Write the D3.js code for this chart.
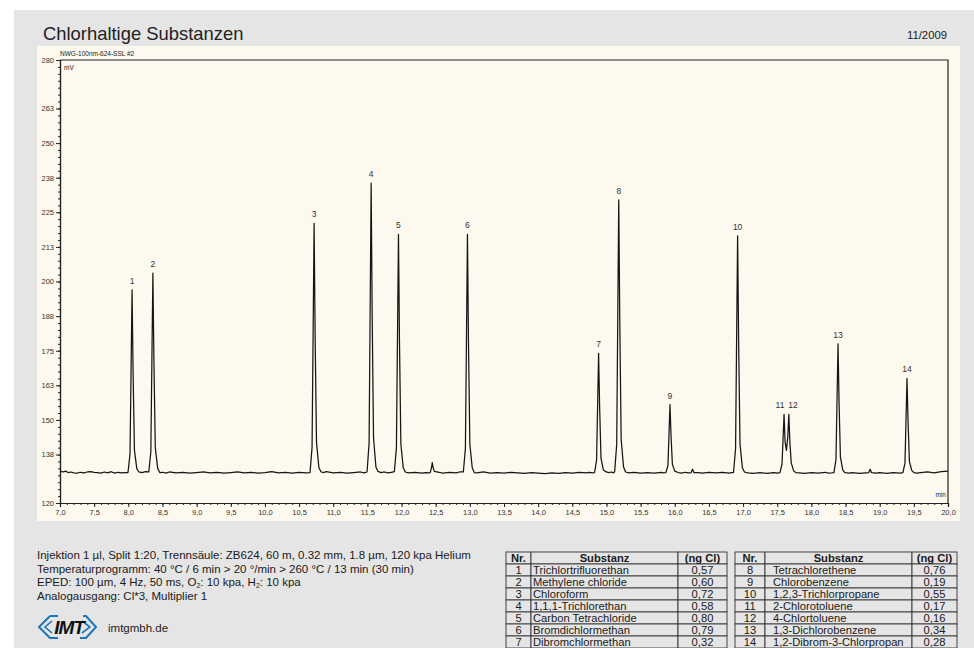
<!DOCTYPE html>
<html>
<head>
<meta charset="utf-8">
<script src="https://cdn.jsdelivr.net/npm/d3@7"></script>
<style>
  body { margin: 0; background: #fff; }
  svg { display: block; font-family: "Liberation Sans", Arial, sans-serif; }
</style>
</head>
<body>
<svg id="chart" width="974" height="648"></svg>
<script>
// chromatogram trace: [time (min), signal (mV)]
const trace = [
  [7.00,131.4],[7.05,131.2],[7.08,131.5],[7.12,131.0],[7.16,131.2],[7.20,130.9],[7.25,130.8],[7.30,131.1],
  [7.35,130.9],[7.40,131.2],[7.45,131.3],[7.50,131.1],[7.55,131.0],[7.60,130.8],[7.65,131.2],[7.70,130.9],
  [7.75,131.3],[7.80,130.8],[7.85,131.1],[7.90,130.9],[7.95,131.0],
  [7.995,131.0],[8.025,137.6],[8.04,167],[8.055,197],[8.07,167],[8.09,139],[8.125,132.3],[8.155,131.2],
  [8.20,131.0],[8.25,131.3],
  [8.30,131.2],[8.33,138.5],[8.345,171],[8.36,203],[8.375,171],[8.395,140],[8.43,132.5],[8.46,131.0],
  [8.50,131.1],[8.55,130.8],[8.60,131.2],[8.70,130.9],[8.80,131.1],[8.90,130.8],[9.00,131.0],[9.10,131.2],
  [9.20,130.9],[9.30,131.1],[9.40,130.8],[9.50,131.0],[9.60,131.2],[9.70,130.9],[9.80,131.1],[9.90,130.8],
  [10.00,131.0],[10.10,131.3],[10.20,130.9],[10.30,131.1],[10.40,130.8],[10.50,131.1],[10.60,130.9],
  [10.66,131.0],[10.69,140],[10.705,180],[10.72,221],[10.735,180],[10.755,142],[10.79,132.8],[10.82,131.3],
  [10.85,131.0],[10.90,131.3],[11.00,130.9],[11.10,131.1],[11.20,130.8],[11.30,131.0],[11.40,131.2],[11.45,130.9],
  [11.495,131.2],[11.525,141.5],[11.54,188],[11.555,235.5],[11.57,188],[11.59,143.5],[11.625,133],[11.655,131.4],
  [11.70,131.0],[11.75,131.2],[11.80,130.9],[11.85,131.1],
  [11.895,131.3],[11.925,139.9],[11.94,178],[11.955,217],[11.97,178],[11.99,141.3],[12.025,132.7],[12.055,131.2],
  [12.10,130.9],[12.20,131.1],[12.30,130.8],[12.35,131.0],[12.40,130.9],
  [12.42,131.0],[12.44,133],[12.45,134.6],[12.46,133],[12.48,131.4],
  [12.55,131.1],[12.60,130.8],[12.70,131.1],[12.80,130.9],[12.85,131.2],
  [12.905,131.2],[12.935,139.8],[12.95,178],[12.965,217],[12.98,178],[13.00,141.3],[13.035,132.7],[13.065,131.0],
  [13.10,130.9],[13.20,131.2],[13.30,130.8],[13.40,131.0],[13.50,130.8],[13.60,131.1],[13.70,130.9],[13.80,130.7],
  [13.90,131.0],[14.00,130.8],[14.10,130.6],[14.20,130.9],[14.30,130.7],[14.40,131.0],[14.50,130.8],[14.60,131.1],
  [14.70,130.9],[14.75,131.1],[14.80,130.9],
  [14.825,131.0],[14.855,135.3],[14.87,154.5],[14.885,174],[14.90,154.5],[14.92,136.2],[14.955,131.9],
  [14.99,131.3],[15.03,131.0],[15.07,131.2],[15.10,130.9],
  [15.12,131.3],[15.15,141.2],[15.165,185.5],[15.18,229.5],[15.195,185.5],[15.215,143],[15.25,133],[15.28,131.2],
  [15.33,130.9],[15.40,131.1],[15.50,130.8],[15.60,131.0],[15.70,130.8],[15.80,131.1],[15.84,130.9],
  [15.87,131.0],[15.90,133.5],[15.915,144.5],[15.93,155.5],[15.945,144.5],[15.965,134],[16.00,131.5],
  [16.05,131.0],[16.10,130.8],[16.15,131.1],[16.20,130.9],
  [16.24,131.0],[16.26,132.2],[16.28,131.0],
  [16.35,131.0],[16.40,130.8],[16.50,131.1],[16.60,130.9],[16.70,131.1],[16.80,130.8],[16.83,131.0],
  [16.86,131.0],[16.89,139.6],[16.905,178],[16.92,216.5],[16.935,178],[16.955,141.3],[16.99,132.7],[17.02,131.2],
  [17.07,130.9],[17.15,130.7],[17.25,131.0],[17.35,130.7],[17.45,131.0],[17.50,130.8],
  [17.54,131.0],[17.57,134],[17.585,143],[17.60,152],[17.615,142],[17.635,139],[17.655,144],[17.67,152],
  [17.685,142],[17.705,134.5],[17.74,131.6],[17.77,131.0],
  [17.82,130.9],[17.90,130.7],[18.00,131.0],[18.10,130.8],[18.20,131.1],[18.25,130.8],[18.30,130.9],
  [18.33,131.0],[18.36,135.7],[18.375,156.5],[18.39,177.5],[18.405,156.5],[18.425,136.6],[18.46,131.9],[18.49,131.0],
  [18.55,130.8],[18.60,131.0],[18.70,130.7],[18.80,130.9],
  [18.84,131.0],[18.86,132.2],[18.88,131.0],
  [18.95,130.8],[19.00,131.0],[19.10,130.7],[19.20,131.0],[19.30,130.8],
  [19.34,131.0],[19.37,134.4],[19.385,149.7],[19.40,165],[19.415,149.7],[19.435,135],[19.47,131.7],[19.50,131.0],
  [19.55,130.8],[19.60,131.0],[19.70,131.2],[19.80,130.9],[19.90,131.3],[20.00,131.5]
];

// peak labels
const peakNr = ['1','2','3','4','5','6','7','8','9','10','11','12','13','14'];
const peakTime = [8.055, 8.36, 10.72, 11.555, 11.955, 12.965, 14.885, 15.18, 15.93, 16.92, 17.54, 17.73, 18.39, 19.40];
const peakTop = [197, 203, 221, 235.5, 217, 217, 174, 229.5, 155.5, 216.5, 152, 152, 177.5, 165];

// axes
const xDomain = [7, 20];
const yDomain = [120, 280];
const yMajorTicks = [120, 137.5, 150, 162.5, 175, 187.5, 200, 212.5, 225, 237.5, 250, 262.5, 280];

// substance table
const substNr = [1, 2, 3, 4, 5, 6, 7, 8, 9, 10, 11, 12, 13, 14];
const substName = ['Trichlortrifluorethan', 'Methylene chloride', 'Chloroform', '1,1,1-Trichlorethan',
  'Carbon Tetrachloride', 'Bromdichlormethan', 'Dibromchlormethan', 'Tetrachlorethene', 'Chlorobenzene',
  '1,2,3-Trichlorpropane', '2-Chlorotoluene', '4-Chlortoluene', '1,3-Dichlorobenzene', '1,2-Dibrom-3-Chlorpropan'];
const substNgCl = ['0,57', '0,60', '0,72', '0,58', '0,80', '0,79', '0,32', '0,76', '0,19', '0,55', '0,17', '0,16', '0,34', '0,28'];

const infoLines = [
  'Injektion 1 µl, Split 1:20, Trennsäule: ZB624, 60 m, 0.32 mm, 1.8 µm, 120 kpa Helium',
  'Temperaturprogramm: 40 °C / 6 min > 20 °/min > 260 °C / 13 min (30 min)',
  ['EPED: 100 µm, 4 Hz, 50 ms, O', '2', ': 10 kpa, H', '2', ': 10 kpa'],
  'Analogausgang: Cl*3, Multiplier 1'
];

const svg = d3.select('#chart');

// page background
svg.append('rect').attr('x', 14).attr('y', 10).attr('width', 960).attr('height', 638).attr('fill', '#e5e5e5');
svg.append('rect').attr('x', 37).attr('y', 46).attr('width', 923).attr('height', 475).attr('fill', '#fdf9ef');

svg.append('text').attr('x', 43).attr('y', 39.5).text('Chlorhaltige Substanzen')
  .style('font-size', '18.4px').style('fill', '#222');
svg.append('text').attr('x', 947).attr('y', 39).attr('text-anchor', 'end').text('11/2009')
  .style('font-size', '11.3px').style('fill', '#222');

let margin = {left: 60, top: 60, right: 948, bottom: 503};
let x = d3.scaleLinear().domain(xDomain).range([margin.left, margin.right]);
let y = d3.scaleLinear().domain(yDomain).range([margin.bottom, margin.top]);

const chart = svg.append('g');

// frame: top and right lines
chart.append('path')
  .attr('d', `M${margin.left},${margin.top}H${margin.right}V${margin.bottom}`)
  .attr('fill', 'none').attr('stroke', '#222').attr('stroke-width', 1.2);

// x axis
let xMinor = d3.axisBottom(x).tickValues(d3.range(70, 201).map(d => d / 10)).tickSize(2).tickFormat('');
chart.append('g').attr('transform', `translate(0,${margin.bottom})`).call(xMinor);
let xAxis = d3.axisBottom(x).tickValues(d3.range(14, 41).map(d => d / 2)).tickSize(4).tickPadding(3)
  .tickFormat(d => d3.format('.1f')(d).replace('.', ','));
chart.append('g').attr('transform', `translate(0,${margin.bottom})`).call(xAxis);

// y axis
let yMinor = d3.axisLeft(y).tickValues(d3.range(48, 113).map(d => d * 2.5)).tickSize(2).tickFormat('');
chart.append('g').attr('transform', `translate(${margin.left},0)`).call(yMinor);
let yAxis = d3.axisLeft(y).tickValues(yMajorTicks).tickSize(4).tickPadding(2).tickFormat(d => Math.round(d));
chart.append('g').attr('transform', `translate(${margin.left},0)`).call(yAxis);

chart.selectAll('.domain').attr('stroke', '#222').attr('stroke-width', 1.2);
chart.selectAll('.tick line').attr('stroke', '#222');
chart.selectAll('.tick text').style('font-size', '7.5px').style('fill', '#333')
  .style('font-family', '"Liberation Sans", Arial, sans-serif');

chart.append('text').attr('x', margin.left).attr('y', 56).text('NWG-100nm-624-SSL #2')
  .style('font-size', '6.5px').style('fill', '#222');
chart.append('text').attr('x', margin.left + 4).attr('y', 70).text('mV')
  .style('font-size', '6.5px').style('fill', '#222');
chart.append('text').attr('x', margin.right - 2).attr('y', margin.bottom - 6).attr('text-anchor', 'end').text('min')
  .style('font-size', '6.5px').style('fill', '#222');

// trace
let line = d3.line().x(d => x(d[0])).y(d => y(d[1]));
chart.append('path')
  .datum(trace)
  .attr('d', line)
  .attr('fill', 'none')
  .attr('stroke', '#151515')
  .attr('stroke-width', 1.25)
  .attr('stroke-linejoin', 'round');

chart.append('g').selectAll('text')
  .data(peakNr)
  .enter()
    .append('text')
    .attr('x', (d, i) => x(peakTime[i]))
    .attr('y', (d, i) => y(peakTop[i]) - 6)
    .attr('text-anchor', 'middle')
    .text(d => d)
    .style('font-size', '8.5px').style('fill', '#333');

// info text
let info = svg.append('g').style('font-size', '11.5px').style('fill', '#1a1a1a');
info.selectAll('text')
  .data(infoLines)
  .enter()
    .append('text')
    .attr('x', 37)
    .attr('y', (d, i) => 559 + i * 13.7)
    .each(function(d) {
      let t = d3.select(this);
      if (typeof d === 'string') { t.text(d); return; }
      d.forEach((part, k) => {
        let sp = t.append('tspan').text(part);
        if (k % 2 === 1) sp.style('font-size', '7px').attr('dy', 2);
        else if (k > 0) sp.attr('dy', -2);
      });
    });

// logo
let logo = svg.append('g').attr('transform', 'translate(38,614)');
logo.append('path')
  .attr('d', 'M12,2 L20,2 M12,2 L1,13 L12,24 L20,24 M45,2 L48,2 L58,13 L48,24 L42,24')
  .attr('fill', 'none').attr('stroke', '#1b75bb').attr('stroke-width', 2);
logo.append('path')
  .attr('d', 'M14,7 L7,13 L14,19 M44,7 L52,13 L44,19')
  .attr('fill', 'none').attr('stroke', '#1b75bb').attr('stroke-width', 1.6);
logo.append('text').attr('x', 31).attr('y', 20).attr('text-anchor', 'middle').text('IMT')
  .style('font-size', '19px').style('font-weight', 'bold').style('font-style', 'italic')
  .style('fill', '#111').style('letter-spacing', '-1px');
svg.append('text').attr('x', 108).attr('y', 632).text('imtgmbh.de')
  .style('font-size', '11.5px').style('fill', '#222');

// tables
function drawTable(x0, cols, rows) {
  let rowH = 12, top = 552;
  let tbl = svg.append('g').style('font-size', '11.2px').style('fill', '#1a1a1a');
  let allRows = [{nr: 'Nr.', name: 'Substanz', ng: '(ng Cl)', head: true}].concat(rows);
  allRows.forEach((r, i) => {
    let cx = x0;
    let vals = [r.nr, r.name, r.ng];
    cols.forEach((c, k) => {
      tbl.append('rect').attr('x', cx).attr('y', top + i * rowH).attr('width', c.w).attr('height', rowH)
        .attr('fill', '#e5e5e5').attr('stroke', '#333').attr('stroke-width', 0.9);
      let anchor = (r.head || c.align === 'middle') ? 'middle' : 'start';
      let tx = anchor === 'middle' ? cx + c.w / 2 : cx + c.pad;
      tbl.append('text').attr('x', tx).attr('y', top + i * rowH + 10.2).attr('text-anchor', anchor)
        .style('font-weight', r.head ? 'bold' : 'normal')
        .text(vals[k]);
      cx += c.w;
    });
  });
}
let tableRows = substNr.map((n, i) => ({nr: n, name: substName[i], ng: substNgCl[i]}));
drawTable(506, [{w: 25, align: 'middle'}, {w: 147, align: 'start', pad: 2}, {w: 49, align: 'middle'}], tableRows.slice(0, 7));
drawTable(735, [{w: 30, align: 'middle'}, {w: 147, align: 'start', pad: 8}, {w: 45, align: 'middle'}], tableRows.slice(7));
</script>
</body>
</html>
